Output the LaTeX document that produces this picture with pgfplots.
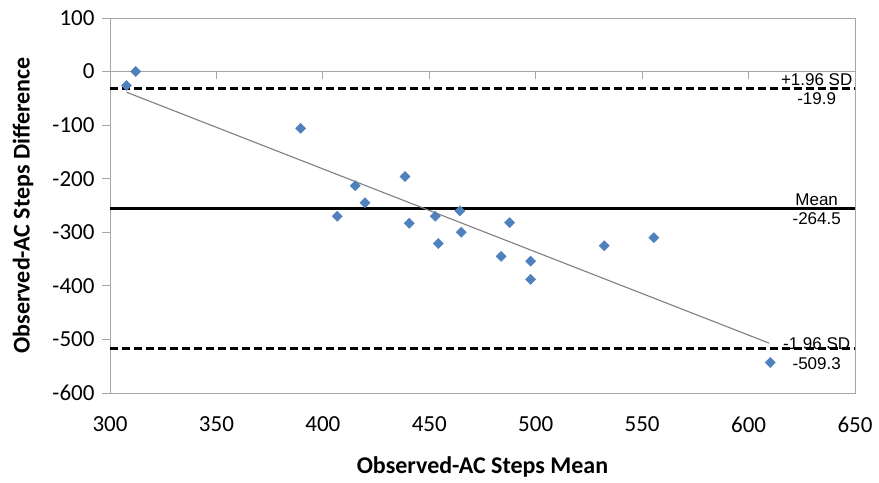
\documentclass[border=0pt]{standalone}
\usepackage{fontspec}
\setmainfont{Carlito}
\newfontfamily\arial{Liberation Sans}
\usepackage{pgfplots}
\pgfplotsset{compat=1.18}
\definecolor{ptblue}{HTML}{4F81BD}
\definecolor{framegray}{HTML}{A6A6A6}
\definecolor{fitgray}{HTML}{7F7F7F}

\pgfplotstableread{
x y
307.8 -26
312.1 0
389.6 -106
415.2 -213
419.8 -245
406.8 -270
438.6 -196
440.6 -283
452.8 -270
454.2 -321
464.4 -260
465.0 -300
487.7 -282
483.7 -345
497.6 -354
497.6 -388
532.2 -325
555.5 -310
610.2 -543
}\diffdata

\begin{document}
\begin{tikzpicture}
\begin{axis}[
  scale only axis, width=745bp, height=375bp,
  xmin=300, xmax=650, ymin=-600, ymax=100,
  xtick={300,350,...,650}, ytick={-600,-500,...,100},
  axis line style={framegray, line width=0.9bp},
  ytick pos=left, xtick pos=bottom,
  tick align=outside, major tick length=8bp,
  ytick style={framegray, line width=0.9bp},
  xtick style={draw=none},
  tick label style={font=\fontsize{23bp}{26bp}\selectfont},
  /pgf/number format/assume math mode=true,
  xticklabel style={yshift=-12bp},
  yticklabel style={xshift=-4bp},
  xlabel={\textbf{Observed-AC Steps Mean}},
  ylabel={\textbf{Observed-AC Steps Difference}},
  label style={font=\fontsize{24bp}{28bp}\selectfont},
  xlabel style={at={([yshift=-74bp]axis description cs:0.5,0)}, anchor=center},
  ylabel style={at={([xshift=-87bp]axis description cs:0,0.5)}, anchor=center},
  clip=false,
]
% x axis line through zero
\draw[framegray, line width=0.9bp] (axis cs:300,0) -- (axis cs:650,0);
\pgfplotsinvokeforeach{350,400,...,600}{
  \draw[framegray, line width=0.9bp] (axis cs:#1,0) -- ([yshift=-7bp]axis cs:#1,0);
}
% limits of agreement and mean
\addplot[black, line width=2.6bp, dash pattern=on 8bp off 4bp] coordinates {(300,-32) (650,-32)};
\addplot[black, line width=2.8bp] coordinates {(300,-255) (650,-255)};
\addplot[black, line width=2.6bp, dash pattern=on 8bp off 4bp] coordinates {(300,-517) (650,-517)};
% trend line
\addplot[fitgray, line width=1.1bp] coordinates {(307.8,-38.6) (609.7,-507)};
% points
\addplot[only marks, mark=square*, mark size=3.6bp, mark options={fill=ptblue, draw=ptblue, rotate=45}] table {\diffdata};
% labels
\begin{scope}[every node/.style={font=\arial\fontsize{17bp}{20bp}\selectfont, inner sep=0pt}]
\node[anchor=base, yshift=3bp] at (axis cs:632,-32) {+1.96 SD};
\node[anchor=north, yshift=-4bp] at (axis cs:632,-32) {-19.9};
\node[anchor=base, yshift=3bp] at (axis cs:632,-255) {Mean};
\node[anchor=north, yshift=-4bp] at (axis cs:632,-255) {-264.5};
\node[anchor=base, yshift=-1bp] at (axis cs:632,-517) {-1.96 SD};
\node[anchor=north, yshift=-9bp] at (axis cs:632,-517) {-509.3};
\end{scope}
\end{axis}
\pgfresetboundingbox
\path (-110bp,-90bp) rectangle (769bp,393bp);
\end{tikzpicture}
\end{document}
